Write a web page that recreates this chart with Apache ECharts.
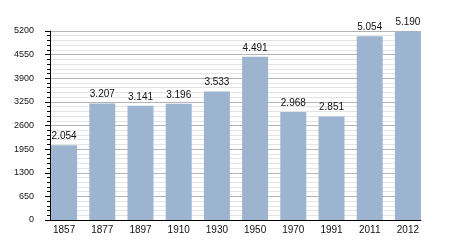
<!DOCTYPE html>
<html><head><meta charset="utf-8">
<script src="https://cdn.jsdelivr.net/npm/echarts@6/dist/echarts.min.js"></script>
<style>html,body{margin:0;padding:0;background:#fff}#c{width:450px;height:250px}</style>
</head><body><div id="c"></div>
<script>
var years = ["1857","1877","1897","1910","1930","1950","1970","1991","2011","2012"];
var population = [2054, 3207, 3141, 3196, 3533, 4491, 2968, 2851, 5054, 5190];
var yMin = 0, yMax = 5200, yStep = 650;

function fmt(v){ return String(v).replace(/\B(?=(\d{3})+(?!\d))/g, "."); }

var chart = echarts.init(document.getElementById('c'), null, {renderer:'canvas'});
chart.setOption({
  animation:false,
  grid:[
    {left:45, right:23, top:31, bottom:30},
    {left:50, right:29, top:31, bottom:30}
  ],
  xAxis:[
    {type:'category', gridIndex:0, data:years, axisLine:{show:false}, axisTick:{show:false},
     axisLabel:{fontFamily:'Liberation Sans, Arial, sans-serif', fontSize:10, color:'#111', margin:5}},
    {type:'category', gridIndex:1, data:years, axisLine:{show:true, lineStyle:{color:'#000', width:1}},
     axisTick:{show:false}, axisLabel:{show:false}}
  ],
  yAxis:[
    {type:'value', gridIndex:0, min:yMin, max:yMax, interval:yStep, show:false, splitLine:{show:false}},
    {type:'value', gridIndex:1, min:yMin, max:yMax, interval:yStep,
     axisLine:{show:true, lineStyle:{color:'#000', width:1}},
     axisTick:{show:true, length:5, lineStyle:{color:'#000'}},
     minorTick:{show:true, splitNumber:5, length:3, lineStyle:{color:'#000'}},
     splitLine:{show:true, lineStyle:{color:'#b4b4b4', width:1}},
     minorSplitLine:{show:true, lineStyle:{color:'#e4e4e4', width:1}},
     axisLabel:{fontFamily:'Liberation Sans, Arial, sans-serif', fontSize:9, color:'#111', margin:16,
       formatter:function(v){return String(v);}}}
  ],
  series:[{
    type:'bar', xAxisIndex:0, yAxisIndex:0, data:population, barWidth:26,
    itemStyle:{color:'#9cb4cf'},
    label:{show:true, position:'top', distance:4, color:'#111',
      fontFamily:'Liberation Sans, Arial, sans-serif', fontSize:10,
      formatter:function(p){return fmt(p.value);}}
  }]
});
</script></body></html>
